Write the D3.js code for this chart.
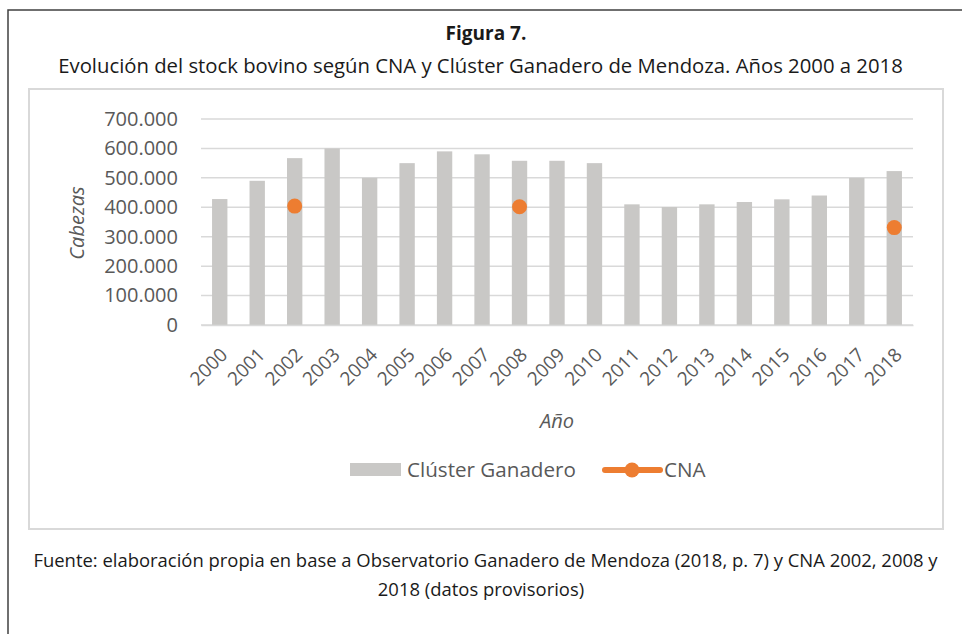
<!DOCTYPE html>
<html>
<head>
<meta charset="utf-8">
<script src="https://cdn.jsdelivr.net/npm/d3@7"></script>
<style>
  body { margin: 0; background: #fff; }
  text { font-family: "Open Sans", sans-serif; }
</style>
</head>
<body>
<svg id="chart" width="962" height="634"></svg>
<script>
const years = ["2000","2001","2002","2003","2004","2005","2006","2007","2008","2009",
  "2010","2011","2012","2013","2014","2015","2016","2017","2018"];
const cluster = [428000, 490000, 567000, 600000, 500000, 550000, 590000, 580000, 558000, 558000,
  550000, 410000, 401000, 410000, 418000, 427000, 440000, 500000, 523000];
const cnaYears = ["2002", "2008", "2018"];
const cnaValues = [404000, 402000, 331000];
const yTicks = [0, 100000, 200000, 300000, 400000, 500000, 600000, 700000];

const svg = d3.select("#chart");

// marco exterior (solo arriba e izquierda)
svg.append("path")
  .attr("d", "M8,634 L8,10 L962,10")
  .attr("fill", "none")
  .attr("stroke", "#404040")
  .attr("stroke-width", 1.5);

// recuadro del grafico
svg.append("rect")
  .attr("x", 29).attr("y", 89)
  .attr("width", 914).attr("height", 440)
  .attr("fill", "#fff")
  .attr("stroke", "#d9d9d9")
  .attr("stroke-width", 2);

// ajusta el tamaño de letra para ocupar un ancho dado
function fitWidth(sel, target) {
  const w = sel.node().getComputedTextLength();
  const fs = parseFloat(sel.style("font-size"));
  sel.style("font-size", (fs * target / w) + "px");
}

svg.append("text")
  .attr("x", 486).attr("y", 40)
  .attr("text-anchor", "middle")
  .style("font-size", "19px")
  .style("font-weight", "bold")
  .attr("fill", "#1a1a1a")
  .text("Figura 7.");

const sub = svg.append("text")
  .attr("x", 480.5).attr("y", 73)
  .attr("text-anchor", "middle")
  .style("font-size", "19px")
  .attr("fill", "#1a1a1a")
  .text("Evolución del stock bovino según CNA y Clúster Ganadero de Mendoza. Años 2000 a 2018");
fitWidth(sub, 845);

const x = d3.scaleBand().domain(years).range([201, 913]).paddingInner(0.59).paddingOuter(0.295);
const y = d3.scaleLinear().domain([0, 700000]).range([325, 119]);

const loc = d3.formatLocale({ decimal: ",", thousands: ".", grouping: [3], currency: ["$", ""] });
const fmt = loc.format(",");

// lineas de grilla
svg.append("g")
  .selectAll("line")
  .data(yTicks)
  .join("line")
  .attr("x1", 201).attr("x2", 913)
  .attr("y1", d => y(d)).attr("y2", d => y(d))
  .attr("stroke", "#d9d9d9")
  .attr("stroke-width", 1.5);

// eje Y
const yAxis = svg.append("g")
  .attr("transform", "translate(178,0)")
  .call(d3.axisLeft(y).tickValues(yTicks).tickFormat(d => d === 0 ? "0" : fmt(d)).tickSize(0).tickPadding(0));
yAxis.select(".domain").remove();
yAxis.selectAll("text")
  .style("font-family", "'Open Sans', sans-serif")
  .style("font-size", "20px")
  .attr("fill", "#595959");

svg.append("text")
  .attr("transform", "translate(84,223) rotate(-90)")
  .attr("text-anchor", "middle")
  .style("font-size", "20px")
  .style("font-style", "italic")
  .attr("fill", "#595959")
  .text("Cabezas");

// barras
svg.append("g")
  .selectAll("rect")
  .data(years)
  .join("rect")
  .attr("x", d => x(d))
  .attr("width", x.bandwidth())
  .attr("y", (d, i) => y(cluster[i]))
  .attr("height", (d, i) => y(0) - y(cluster[i]))
  .attr("fill", "#c9c8c6");

// eje X
const xAxis = svg.append("g")
  .attr("transform", "translate(0,325)")
  .call(d3.axisBottom(x).tickSize(0).tickPadding(0));
xAxis.select(".domain")
  .attr("stroke", "#d9d9d9")
  .attr("stroke-width", 1.5);
xAxis.selectAll("text")
  .style("font-family", "'Open Sans', sans-serif")
  .style("font-size", "19px")
  .attr("fill", "#595959")
  .attr("text-anchor", "end")
  .attr("dy", 0)
  .attr("y", 0)
  .attr("transform", "translate(9,31) rotate(-45)");

svg.append("text")
  .attr("x", 557).attr("y", 428)
  .attr("text-anchor", "middle")
  .style("font-size", "20px")
  .style("font-style", "italic")
  .attr("fill", "#595959")
  .text("Año");

// puntos CNA
svg.append("g")
  .selectAll("circle")
  .data(cnaYears)
  .join("circle")
  .attr("cx", d => x(d) + x.bandwidth() / 2)
  .attr("cy", (d, i) => y(cnaValues[i]))
  .attr("r", 7.5)
  .attr("fill", "#ed7d31");

// leyenda
const legend = svg.append("g");
legend.append("rect")
  .attr("x", 350).attr("y", 463)
  .attr("width", 51).attr("height", 13)
  .attr("fill", "#c9c8c6");
const lt = legend.append("text")
  .attr("x", 407).attr("y", 477)
  .style("font-size", "20px")
  .attr("fill", "#595959")
  .text("Clúster Ganadero");
fitWidth(lt, 169);
legend.append("line")
  .attr("x1", 605).attr("x2", 660)
  .attr("y1", 470).attr("y2", 470)
  .attr("stroke", "#ed7d31")
  .attr("stroke-width", 6)
  .attr("stroke-linecap", "round");
legend.append("circle")
  .attr("cx", 632).attr("cy", 470).attr("r", 7.5)
  .attr("fill", "#ed7d31");
legend.append("text")
  .attr("x", 664).attr("y", 477)
  .style("font-size", lt.style("font-size"))
  .attr("fill", "#595959")
  .text("CNA");

// fuente
const f1 = svg.append("text")
  .attr("x", 485.5).attr("y", 567)
  .attr("text-anchor", "middle")
  .style("font-size", "18px")
  .attr("fill", "#1a1a1a")
  .text("Fuente: elaboración propia en base a Observatorio Ganadero de Mendoza (2018, p. 7) y CNA 2002, 2008 y");
fitWidth(f1, 905);
svg.append("text")
  .attr("x", 481).attr("y", 596)
  .attr("text-anchor", "middle")
  .style("font-size", f1.style("font-size"))
  .attr("fill", "#1a1a1a")
  .text("2018 (datos provisorios)");
</script>
</body>
</html>
